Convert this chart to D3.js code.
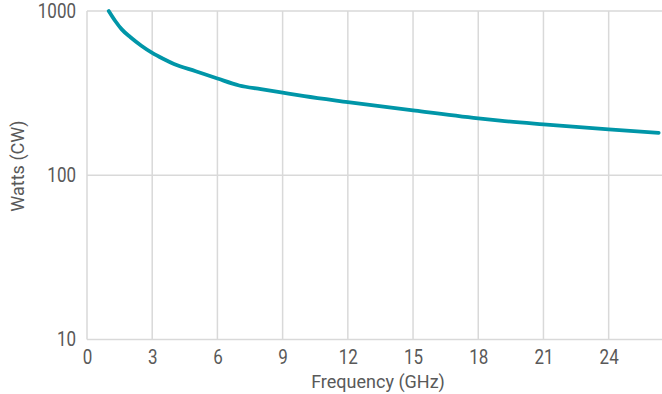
<!DOCTYPE html>
<html><head><meta charset="utf-8">
<script src="https://cdn.jsdelivr.net/npm/d3@7"></script>
<style>
html,body{margin:0;padding:0;background:#fff;}
svg{display:block;}
text{font-family:Roboto, "Noto Sans", sans-serif;fill:#595959;}
</style></head>
<body>
<svg id="chart" width="662" height="394"></svg>
<script>
const freqGHz = [1, 1.3, 1.6, 2.0, 2.5, 3, 3.5, 4, 5, 6, 7, 8, 9, 10, 12, 15, 18, 19, 21, 24, 26.3];
const watts   = [1000, 869, 773, 692, 615, 556, 512, 476, 430, 388, 352, 334, 318, 303, 279, 248, 222, 215, 204, 190, 181];
const xTicks = [0, 3, 6, 9, 12, 15, 18, 21, 24];
const yTicks = [10, 100, 1000];
const xTitle = "Frequency (GHz)";
const yTitle = "Watts (CW)";

(function () {
const svg = d3.select("#chart");
const mL = 87, mR = 663, mT = 11, mB = 339.5;
const sx = 0.85;
const x = d3.scaleLinear().domain([0, 26.5]).range([mL, mR]);
const y = d3.scaleLog().domain([10, 1000]).range([mB, mT]);

const grid = svg.append("g").attr("stroke", "#d9d9d9").attr("stroke-width", 1.5);
grid.selectAll("line.v").data(xTicks).join("line")
  .attr("x1", d => x(d)).attr("x2", d => x(d)).attr("y1", mT).attr("y2", mB);
grid.selectAll("line.h").data(yTicks).join("line")
  .attr("x1", mL).attr("x2", mR).attr("y1", d => y(d)).attr("y2", d => y(d));

const xAxis = svg.append("g").attr("transform", `translate(0,${mB})`)
  .call(d3.axisBottom(x).tickValues(xTicks).tickSize(0).tickPadding(10).tickFormat(d3.format("d")));
xAxis.select(".domain").remove();
xAxis.selectAll("text").attr("font-size", 20).attr("fill", "#595959")
  .attr("transform", `scale(${sx},1)`);

const yAxis = svg.append("g").attr("transform", `translate(${mL},0)`)
  .call(d3.axisLeft(y).tickValues(yTicks).tickSize(0).tickPadding(10).tickFormat(d3.format("d")));
yAxis.select(".domain").remove();
yAxis.selectAll("text").attr("font-size", 20).attr("fill", "#595959")
  .attr("x", -11 / sx).attr("transform", `scale(${sx},1)`);

const line = d3.line().x((d, i) => x(freqGHz[i])).y(d => y(d)).curve(d3.curveMonotoneX);
svg.append("path").datum(watts)
  .attr("d", line).attr("fill", "none").attr("stroke", "#0096a8")
  .attr("stroke-width", 3.8).attr("stroke-linecap", "round");

svg.append("text").attr("x", 378).attr("y", 388)
  .attr("text-anchor", "middle").attr("font-size", 18).text(xTitle);
svg.append("text").attr("transform", `translate(24,166) rotate(-90)`)
  .attr("text-anchor", "middle").attr("font-size", 18).text(yTitle);
})();
</script>
</body></html>
